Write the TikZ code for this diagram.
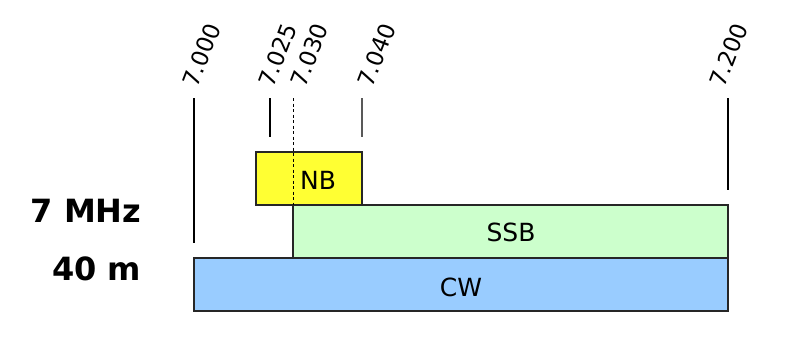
\documentclass[tikz,border=0pt]{standalone}
\usepackage{fontspec}
\setmainfont{DejaVu Sans}
\begin{document}
\begin{tikzpicture}[x=1pt,y=-1pt,
  band/.style={draw=black!85,line width=1.4pt},
  tick/.style={draw=black,line width=1.1pt},
  ticklabel/.style={anchor=base west,rotate=69,inner sep=0pt,font=\fontsize{23}{27}\selectfont},
  bandlabel/.style={inner sep=0pt,font=\fontsize{25}{30}\selectfont},
  sidelabel/.style={anchor=base east,inner sep=0pt,font=\fontsize{32}{38}\selectfont\bfseries}]
\useasboundingbox (0,0) rectangle (794,338);
% bands
\path[band,fill={rgb,255:red,153;green,204;blue,255}] (194,258) rectangle (728,311);
\path[band,fill={rgb,255:red,204;green,255;blue,204}] (293,205) rectangle (728,258);
\path[band,fill={rgb,255:red,255;green,255;blue,51}] (256,152) rectangle (362,205);
\node[bandlabel] (cw) at (461,287) {CW};
\node[bandlabel] (ssb) at (511,232) {SSB};
\node[bandlabel] (nb) at (318,180) {NB};
% ticks
\coordinate (t0a) at (194,98); \coordinate (t0b) at (194,243);
\coordinate (t1a) at (270,98); \coordinate (t1b) at (270,137);
\coordinate (t2a) at (293.5,98); \coordinate (t2b) at (293.5,205);
\coordinate (t3a) at (362,98); \coordinate (t3b) at (362,137);
\coordinate (t4a) at (728,98); \coordinate (t4b) at (728,190);
\draw[tick] (t0a) -- (t0b);
\draw[tick] (t1a) -- (t1b);
\draw[tick,line width=0.9pt,dash pattern=on 3pt off 2.5pt] (t2a) -- (t2b);
\draw[tick,draw=black!65] (t3a) -- (t3b);
\draw[tick] (t4a) -- (t4b);
\node[ticklabel] (l0) at (197.6,89) {7.000};
\node[ticklabel] (l1) at (273.6,89) {7.025};
\node[ticklabel] (l2) at (305.3,89) {7.030};
\node[ticklabel] (l3) at (372.6,89) {7.040};
\node[ticklabel] (l4) at (724.6,89) {7.200};
% side labels
\node[sidelabel] (mhz) at (141.5,222) {7 MHz};
\node[sidelabel] (m) at (141.5,280) {40 m};
\end{tikzpicture}
\end{document}
